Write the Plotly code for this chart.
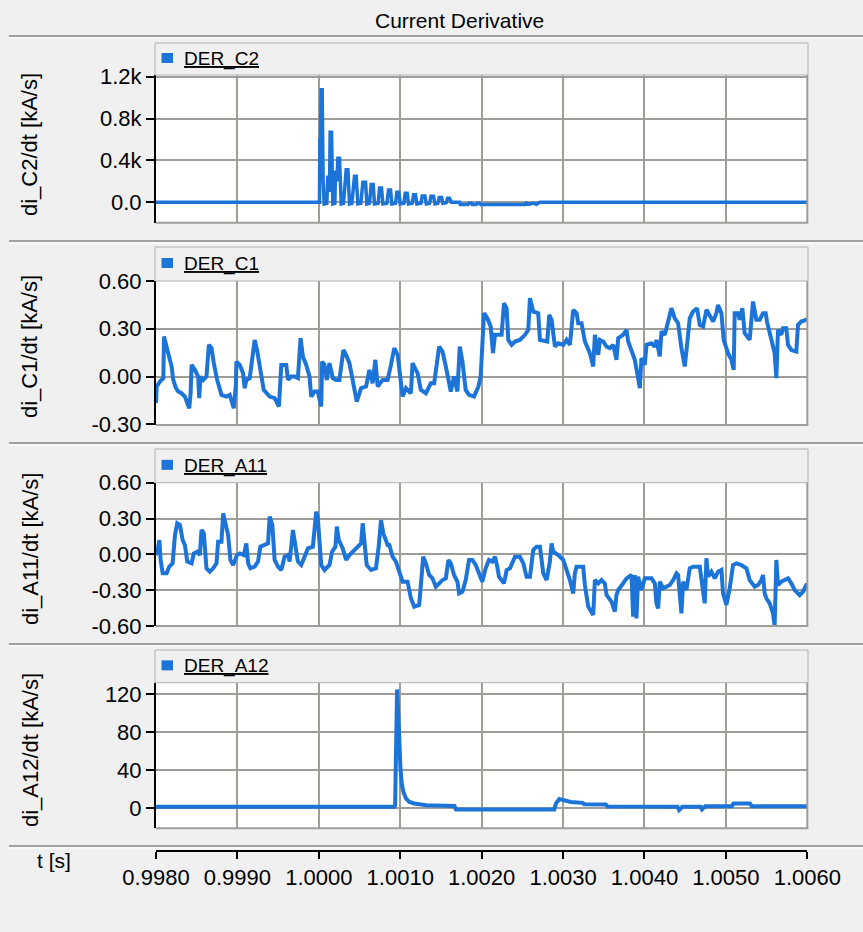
import plotly.graph_objects as go

W, H = 863, 932
def px(x): return x / W
def py(y): return 1 - y / H

BLUE = '#1c74d8'
GRID = '#a09c98'
BG = '#f0f0f0'
FONT = 'Arial, Liberation Sans, sans-serif'

# ---------------- data ----------------
X_TICKS = [0.998, 0.999, 1.000, 1.001, 1.002, 1.003, 1.004, 1.005, 1.006]
X_TEXT = ["0.9980", "0.9990", "1.0000", "1.0010", "1.0020", "1.0030", "1.0040", "1.0050", "1.0060"]

C2_T = [0.998000, 1.000000, 1.000008, 1.000012, 1.000020, 1.000029, 1.000041, 1.000053, 1.000066, 1.000098,
        1.000111, 1.000131, 1.000139, 1.000156, 1.000172, 1.000197, 1.000205, 1.000221, 1.000234, 1.000254,
        1.000275, 1.000303, 1.000320, 1.000336, 1.000357, 1.000377, 1.000406, 1.000422, 1.000438, 1.000459,
        1.000479, 1.000516, 1.000541, 1.000574, 1.000590, 1.000623, 1.000643, 1.000668, 1.000684, 1.000729,
        1.000746, 1.000770, 1.000787, 1.000836, 1.000856, 1.000881, 1.000897, 1.000943, 1.000959, 1.000984,
        1.001000, 1.001045, 1.001061, 1.001086, 1.001102, 1.001147, 1.001164, 1.001188, 1.001205, 1.001254,
        1.001270, 1.001303, 1.001320, 1.001361, 1.001377, 1.001410, 1.001426, 1.001463, 1.001479, 1.001508,
        1.001524, 1.001565, 1.001582, 1.001606, 1.001627, 1.001729, 1.001737, 1.001832, 1.001844, 1.001873,
        1.001885, 1.001934, 1.001947, 1.001975, 1.001988, 1.002528, 1.002549, 1.002582, 1.002631, 1.002672,
        1.002713, 1.006000]
C2_V = [0, 0, 0, 596, 596, 1074, 1074, 200, -16, -10,
        255, 100, 669, 669, -16, -10, 303, 200, 421, 421,
        -16, -10, 200, 312, 312, -16, -10, 180, 249, 249,
        -16, -10, 191, 191, -16, -10, 169, 169, -16, -10,
        137, 137, -16, -10, 118, 118, -16, -10, 96, 96,
        -16, -10, 86, 86, -16, -10, 73, 73, -16, -10,
        61, 61, -16, -10, 57, 57, -16, -10, 45, 45,
        -10, -5, 38, 38, 0, 0, -22, -22, -8, -8,
        -22, -22, -10, -10, -20, -20, -8, -20, -8, -20,
        0, 0]

C1_T = [0.998000, 0.998008, 0.998049, 0.998090, 0.998098, 0.998131, 0.998163, 0.998192, 0.998212, 0.998245,
        0.998273, 0.998314, 0.998355, 0.998408, 0.998425, 0.998437, 0.998478, 0.998518, 0.998531, 0.998547,
        0.998580, 0.998620, 0.998649, 0.998682, 0.998710, 0.998751, 0.998804, 0.998865, 0.998906, 0.998955,
        0.998980, 0.998988, 0.999029, 0.999069, 0.999090, 0.999110, 0.999151, 0.999212, 0.999241, 0.999274,
        0.999323, 0.999396, 0.999457, 0.999510, 0.999519, 0.999539, 0.999600, 0.999621, 0.999661, 0.999702,
        0.999743, 0.999776, 0.999804, 0.999845, 0.999886, 0.999906, 0.999947, 0.999988, 1.000029, 1.000041,
        1.000070, 1.000098, 1.000131, 1.000172, 1.000212, 1.000253, 1.000302, 1.000335, 1.000376, 1.000417,
        1.000466, 1.000519, 1.000580, 1.000621, 1.000661, 1.000694, 1.000723, 1.000784, 1.000845, 1.000886,
        1.000927, 1.000968, 1.001008, 1.001029, 1.001070, 1.001131, 1.001151, 1.001213, 1.001253, 1.001315,
        1.001376, 1.001417, 1.001478, 1.001519, 1.001560, 1.001621, 1.001661, 1.001702, 1.001731, 1.001764,
        1.001804, 1.001845, 1.001907, 1.001960, 1.001988, 1.002029, 1.002070, 1.002111, 1.002139, 1.002164,
        1.002213,
        1.002245, 1.002274, 1.002307, 1.002327, 1.002368, 1.002409, 1.002470, 1.002532, 1.002573, 1.002593,
        1.002634, 1.002695, 1.002716, 1.002806, 1.002830, 1.002859, 1.002900, 1.002941, 1.003002, 1.003043,
        1.003084, 1.003125, 1.003166, 1.003186, 1.003227, 1.003268, 1.003329, 1.003370, 1.003391, 1.003432,
        1.003452, 1.003493, 1.003534, 1.003575, 1.003616, 1.003656, 1.003677, 1.003738, 1.003779, 1.003800,
        1.003841, 1.003881, 1.003922, 1.003943, 1.003963, 1.004004, 1.004025, 1.004086, 1.004127, 1.004147,
        1.004188, 1.004209, 1.004250, 1.004290, 1.004331, 1.004372, 1.004413, 1.004454, 1.004495, 1.004536,
        1.004556, 1.004597, 1.004646, 1.004679, 1.004720, 1.004761, 1.004793, 1.004843, 1.004883, 1.004904,
        1.004945, 1.004973, 1.005027, 1.005068, 1.005096, 1.005108, 1.005149, 1.005170, 1.005202, 1.005231,
        1.005292, 1.005333, 1.005374, 1.005415, 1.005456, 1.005489, 1.005505, 1.005558, 1.005599, 1.005620,
        1.005640, 1.005681, 1.005701, 1.005742, 1.005763, 1.005804, 1.005865, 1.005886, 1.005926, 1.005988,
        1.006000]
C1_V = [-0.167, -0.063, -0.031, -0.010, 0.251, 0.188, 0.126, 0.063, -0.021, -0.073,
        -0.094, -0.105, -0.126, -0.199, -0.105, 0.073, 0.042, 0.000, -0.136, 0.000,
        -0.021, 0.000, 0.199, 0.178, 0.084, -0.021, -0.115, -0.126, -0.115, -0.199,
        -0.063, 0.094, 0.073, 0.021, -0.073, -0.021, -0.010, 0.230, 0.167, 0.063,
        -0.084, -0.126, -0.136, -0.188, -0.063, 0.073, 0.073, -0.021, 0.000, 0.000,
        -0.010, 0.241, 0.126, 0.073, 0.000, -0.126, -0.094, -0.094, -0.188, 0.094,
        0.073, -0.021, 0.084, -0.010, -0.021, -0.021, 0.167, 0.136, 0.084, -0.021,
        -0.157, -0.073, -0.063, 0.042, -0.042, 0.105, -0.063, -0.021, -0.021, 0.073,
        0.178, 0.136, -0.021, -0.126, -0.073, -0.105, 0.084, 0.021, -0.084, -0.105,
        -0.042, -0.042, 0.188, 0.157, 0.063, -0.094, 0.000, -0.094, 0.188, 0.094,
        -0.084, -0.115, -0.126, -0.063, 0.000, 0.398, 0.366, 0.314, 0.147, 0.262,
        0.262,
        0.262, 0.460, 0.429, 0.230, 0.199, 0.220, 0.230, 0.262, 0.293, 0.492,
        0.408, 0.398, 0.230, 0.220, 0.387, 0.356, 0.188, 0.209, 0.199, 0.230,
        0.199, 0.419, 0.398, 0.335, 0.335, 0.220, 0.147, 0.063, 0.262, 0.136,
        0.230, 0.220, 0.188, 0.178, 0.199, 0.105, 0.241, 0.262, 0.293, 0.220,
        0.157, 0.105, -0.010, -0.073, 0.115, 0.073, 0.199, 0.209, 0.188, 0.230,
        0.126, 0.283, 0.262, 0.335, 0.429, 0.366, 0.335, 0.178, 0.063, 0.262,
        0.366, 0.408, 0.429, 0.324, 0.314, 0.419, 0.387, 0.345, 0.398, 0.450,
        0.398, 0.230, 0.147, 0.105, 0.042, 0.398, 0.398, 0.356, 0.429, 0.272,
        0.230, 0.471, 0.356, 0.356, 0.398, 0.398, 0.345, 0.230, 0.147, -0.010,
        0.293, 0.262, 0.303, 0.303, 0.199, 0.167, 0.157, 0.324, 0.345, 0.356,
        0.356]

A11_T = [0.998000, 0.998016, 0.998041, 0.998057, 0.998082, 0.998131, 0.998163, 0.998204, 0.998233, 0.998261,
         0.998294, 0.998327, 0.998355, 0.998384, 0.998437, 0.998465, 0.998506, 0.998539, 0.998559, 0.998588,
         0.998620, 0.998661, 0.998702, 0.998743, 0.998763, 0.998804, 0.998825, 0.998857, 0.998886, 0.998914,
         0.998947, 0.998996, 0.999029, 0.999078, 0.999110, 0.999131, 0.999159, 0.999212, 0.999253, 0.999282,
         0.999335, 0.999376, 0.999396, 0.999429, 0.999457, 0.999498, 0.999539, 0.999580, 0.999621, 0.999641,
         0.999682, 0.999714, 0.999743, 0.999784, 0.999825, 0.999866, 0.999927, 0.999968, 0.999988, 1.000029,
         1.000070, 1.000131, 1.000163, 1.000204, 1.000221, 1.000245, 1.000294, 1.000335, 1.000376, 1.000417,
         1.000478, 1.000519, 1.000539, 1.000560, 1.000588, 1.000641, 1.000702, 1.000735, 1.000764, 1.000792,
         1.000845, 1.000866, 1.000906, 1.000947, 1.000988, 1.001029, 1.001090, 1.001131, 1.001172, 1.001233,
         1.001282, 1.001315, 1.001356, 1.001396, 1.001437, 1.001478, 1.001519, 1.001560, 1.001592, 1.001621,
         1.001661, 1.001702, 1.001723, 1.001764, 1.001804, 1.001845, 1.001886, 1.001927, 1.001968, 1.002008,
         1.002049, 1.002090, 1.002131, 1.002164, 1.002192, 1.002213,
         1.002274, 1.002307, 1.002348, 1.002409, 1.002470, 1.002511, 1.002552, 1.002593, 1.002634, 1.002675,
         1.002716, 1.002757, 1.002798, 1.002838, 1.002859, 1.002879, 1.002941, 1.003002, 1.003043, 1.003084,
         1.003125, 1.003145, 1.003166, 1.003247, 1.003268, 1.003309, 1.003370, 1.003391, 1.003432, 1.003472,
         1.003513, 1.003534, 1.003595, 1.003636, 1.003656, 1.003677, 1.003738, 1.003779, 1.003841, 1.003861,
         1.003881, 1.003902, 1.003922, 1.003963, 1.004004, 1.004086, 1.004127, 1.004147, 1.004168, 1.004188,
         1.004229, 1.004270, 1.004311, 1.004352, 1.004393, 1.004413, 1.004454, 1.004475, 1.004515, 1.004556,
         1.004597, 1.004679, 1.004720, 1.004740, 1.004761, 1.004781, 1.004822, 1.004863, 1.004904, 1.004945,
         1.004965, 1.005006, 1.005047, 1.005088, 1.005129, 1.005190, 1.005252, 1.005292, 1.005354, 1.005395,
         1.005436, 1.005456, 1.005477, 1.005497, 1.005538, 1.005579, 1.005599, 1.005620, 1.005640, 1.005681,
         1.005722, 1.005763, 1.005804, 1.005845, 1.005906, 1.005947, 1.005988, 1.006000]
A11_V = [-0.006, 0.022, 0.120, -0.047, -0.159, -0.159, -0.103, -0.075, 0.162, 0.260,
         0.246, 0.120, 0.078, -0.061, -0.075, 0.008, 0.022, -0.006, 0.204, 0.176,
         -0.117, -0.145, -0.117, -0.075, 0.106, 0.106, 0.343, 0.232, 0.162, -0.047,
         -0.089, -0.006, 0.008, -0.006, 0.092, -0.075, -0.117, -0.103, -0.061, 0.064,
         0.078, 0.092, 0.315, 0.246, -0.047, -0.103, -0.131, -0.020, -0.006, -0.061,
         0.204, 0.078, -0.061, -0.089, -0.020, 0.050, 0.064, 0.357, 0.301, -0.089,
         -0.131, -0.089, 0.022, 0.064, 0.232, 0.120, 0.050, -0.047, -0.006, 0.022,
         0.064, 0.092, 0.260, 0.064, -0.089, -0.131, -0.117, 0.064, 0.287, 0.176,
         0.078, 0.078, -0.020, -0.061, -0.145, -0.229, -0.229, -0.368, -0.438, -0.424,
         -0.020, -0.075, -0.173, -0.201, -0.271, -0.243, -0.215, -0.201, -0.047, -0.075,
         -0.173, -0.229, -0.327, -0.313, -0.215, -0.047, -0.047, -0.089, -0.159, -0.229,
         -0.117, -0.047, -0.061, -0.020, -0.103, -0.187,
         -0.243, -0.131, -0.117, -0.020, -0.020, -0.075, -0.187, -0.187, 0.036, 0.064,
         0.064, -0.159, -0.215, -0.061, 0.092, 0.022, -0.006, -0.047, -0.131, -0.215,
         -0.327, -0.159, -0.103, -0.103, -0.257, -0.438, -0.508, -0.215, -0.243, -0.215,
         -0.243, -0.341, -0.396, -0.480, -0.341, -0.299, -0.243, -0.201, -0.173, -0.522,
         -0.173, -0.536, -0.187, -0.299, -0.201, -0.201, -0.243, -0.410, -0.452, -0.229,
         -0.285, -0.271, -0.257, -0.215, -0.159, -0.173, -0.494, -0.229, -0.299, -0.117,
         -0.103, -0.103, -0.327, -0.410, -0.033, -0.187, -0.145, -0.201, -0.145, -0.131,
         -0.327, -0.424, -0.285, -0.089, -0.075, -0.089, -0.117, -0.215, -0.271, -0.257,
         -0.215, -0.173, -0.327, -0.368, -0.410, -0.494, -0.600, -0.047, -0.257, -0.229,
         -0.215, -0.201, -0.243, -0.299, -0.341, -0.313, -0.257, -0.257]

A12_T = [0.998000, 1.000928, 1.000937, 1.000949, 1.000961, 1.000973, 1.000990, 1.001002, 1.001018, 1.001039,
         1.001072, 1.001112, 1.001174, 1.001235, 1.001317, 1.001665, 1.001685, 1.002892, 1.002912, 1.002953,
         1.002994, 1.003035, 1.003096, 1.003239, 1.003260, 1.003526, 1.003546, 1.004405, 1.004425, 1.004466,
         1.004690, 1.004706, 1.004747, 1.005073, 1.005093, 1.005297, 1.005318, 1.006000]
A12_V = [1.5, 1.5, 3, 125, 125, 106, 57, 43, 26, 17,
         10, 6.6, 4.9, 3.8, 3.1, 2.4, -1.4, -1.4, 4.9, 9.7,
         9.0, 8.3, 6.6, 5.6, 4.2, 3.8, 1.7, 1.5, -2, 1.5,
         1.5, -1.4, 2, 2, 4.8, 4.8, 2, 2]

NAMES = ["DER_C2", "DER_C1", "DER_A11", "DER_A12"]
YLABELS = ["di_C2/dt [kA/s]", "di_C1/dt [kA/s]", "di_A11/dt [kA/s]", "di_A12/dt [kA/s]"]
Y_TICKVALS = [[0, 400, 800, 1200], [-0.3, 0, 0.3, 0.6], [-0.6, -0.3, 0, 0.3, 0.6], [0, 40, 80, 120]]
Y_TICKTEXT = [["0.0", "0.4k", "0.8k", "1.2k"], ["-0.30", "0.00", "0.30", "0.60"],
              ["-0.60", "-0.30", "0.00", "0.30", "0.60"], ["0", "40", "80", "120"]]
Y_RANGES = [[-195, 1216], [-0.3044, 0.6], [-0.6, 0.6], [-21.2, 132.1]]
SERIES = [(C2_T, C2_V), (C1_T, C1_V), (A11_T, A11_V), (A12_T, A12_V)]

# ---------------- layout geometry (pixels) ----------------
SEPS = [36, 241, 443, 644, 846]
BOX_TOP = [43, 247, 449, 650]
PLOT_TOP = [75, 281, 482.7, 682.7]
PLOT_BOT = [222.7, 425, 626, 828.3]
YLAB_Y = [145, 347, 549, 750]
LW = [3.5, 4, 4, 4]
XL, XR = 156, 807.3

fig = go.Figure()
layout = dict(
    width=W, height=H, margin=dict(l=0, r=0, t=0, b=0, pad=0, autoexpand=False),
    paper_bgcolor=BG, plot_bgcolor='white', showlegend=False,
    font=dict(family=FONT, color='black', size=20),
)
shapes, annotations = [], []

for i in range(4):
    n = '' if i == 0 else str(i + 1)
    t, v = SERIES[i]
    fig.add_trace(go.Scatter(x=t, y=v, mode='lines', name=NAMES[i],
                             line=dict(color=BLUE, width=LW[i]),
                             xaxis='x' + n, yaxis='y' + n, hoverinfo='skip'))
    xa = dict(domain=[px(XL), px(XR)], range=[0.998, 1.006], tickvals=X_TICKS, ticktext=X_TEXT,
              showgrid=True, gridcolor=GRID, gridwidth=2, zeroline=False, automargin=False,
              showline=False, ticks='', showticklabels=False, anchor='y' + n)
    if i == 3:
        xa.update(anchor='free', position=py(851), showline=True, linecolor='black', linewidth=2,
                  ticks='outside', ticklen=7, tickwidth=1.5, tickcolor='black',
                  showticklabels=True, tickfont=dict(size=22, family=FONT, color='black'))
    layout['xaxis' + n] = xa
    layout['yaxis' + n] = dict(domain=[py(PLOT_BOT[i]), py(PLOT_TOP[i])], range=Y_RANGES[i],
                               tickvals=Y_TICKVALS[i], ticktext=Y_TICKTEXT[i], automargin=False,
                               showgrid=True, gridcolor=GRID, gridwidth=2, zeroline=False,
                               showline=True, linecolor='black', linewidth=2,
                               ticks='outside', ticklen=8, tickwidth=1.5, tickcolor='black',
                               tickfont=dict(size=22, family=FONT, color='black'),
                               anchor='x' + n)
    # legend box
    shapes.append(dict(type='rect', xref='paper', yref='paper', x0=px(155), x1=px(808),
                       y0=py(PLOT_TOP[i]), y1=py(BOX_TOP[i]), fillcolor=BG,
                       line=dict(color='#b0b0b0', width=1), layer='above'))
    cy = (BOX_TOP[i] + PLOT_TOP[i]) / 2
    shapes.append(dict(type='rect', xref='paper', yref='paper', x0=px(161.5), x1=px(173),
                       y0=py(cy + 4), y1=py(cy - 6), fillcolor=BLUE, line=dict(width=0), layer='above'))
    annotations.append(dict(text=NAMES[i], x=px(182), y=py(cy), xref='paper', yref='paper',
                            xanchor='left', yanchor='middle', showarrow=False,
                            font=dict(size=19, family=FONT, color='black', lineposition='under')))
    # plot borders right / bottom
    shapes.append(dict(type='line', xref='paper', yref='paper', x0=px(XR), x1=px(XR),
                       y0=py(PLOT_TOP[i]), y1=py(PLOT_BOT[i]), line=dict(color=GRID, width=2), layer='above'))
    shapes.append(dict(type='line', xref='paper', yref='paper', x0=px(XL), x1=px(XR + 1),
                       y0=py(PLOT_BOT[i]), y1=py(PLOT_BOT[i]), line=dict(color=GRID, width=2), layer='above'))
    # y label
    annotations.append(dict(text=YLABELS[i], x=px(30), y=py(YLAB_Y[i]), xref='paper', yref='paper',
                            xanchor='center', yanchor='middle', textangle=-90, showarrow=False,
                            font=dict(size=22, family=FONT, color='black')))

for s in SEPS:
    shapes.append(dict(type='line', xref='paper', yref='paper', x0=px(9), x1=1,
                       y0=py(s), y1=py(s), line=dict(color='#a0a0a0', width=2)))
    shapes.append(dict(type='line', xref='paper', yref='paper', x0=px(9), x1=1,
                       y0=py(s + 2), y1=py(s + 2), line=dict(color='white', width=1)))

annotations.append(dict(text='Current Derivative', x=px(460), y=py(21), xref='paper', yref='paper',
                        xanchor='center', yanchor='middle', showarrow=False,
                        font=dict(size=21, family=FONT, color='black')))
annotations.append(dict(text='t [s]', x=px(54), y=py(860), xref='paper', yref='paper',
                        xanchor='center', yanchor='middle', showarrow=False,
                        font=dict(size=21, family=FONT, color='black')))

layout['shapes'] = shapes
layout['annotations'] = annotations
fig.update_layout(**layout)
fig.write_html("out.html")
